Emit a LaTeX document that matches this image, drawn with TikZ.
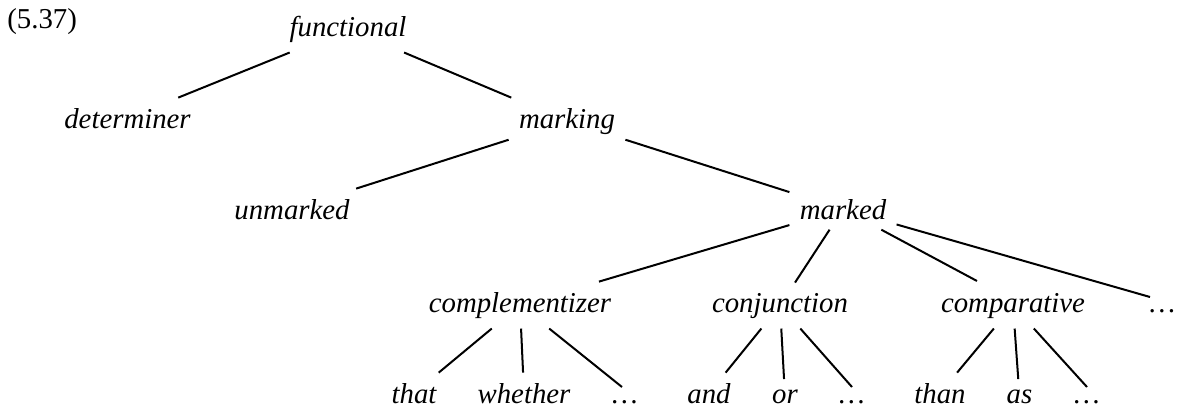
\documentclass[tikz,border=0pt]{standalone}
\usepackage{fontspec}
\setmainfont{Liberation Serif}
\begin{document}
\begin{tikzpicture}[x=0.5pt,y=-0.5pt,
  label text/.style={font=\fontsize{14.4}{17}\selectfont},
  cat/.style={font=\fontsize{14.4}{17}\selectfont\itshape, anchor=base,
    inner xsep=5pt, inner ysep=5pt},
  branch/.style={line width=1pt}]
\useasboundingbox (0,0) rectangle (1184,408);

% example number
\node[label text, anchor=base west, inner sep=0pt] (num) at (7,28) {(5.37)};

% level 0 and 1
\node[cat] (fun) at (348,36) {functional};
\node[cat] (det) at (127.5,128) {determiner};
\node[cat] (mkg) at (567,128) {marking};

% level 2
\node[cat] (unm) at (292,219) {unmarked};
\node[cat] (mkd) at (843,219) {marked};

% level 3
\node[cat] (comp) at (520,312) {complementizer};
\node[cat] (conj) at (780,312) {conjunction};
\node[cat] (cmpr) at (1013,312) {comparative};
\node[cat] (more) at (1162.5,312) {\ldots};

% level 4
\node[cat] (that) at (414,403) {that};
\node[cat] (whe)  at (524,403) {whether};
\node[cat] (cdots) at (625,403) {\ldots};
\node[cat] (and)  at (709,403) {and};
\node[cat] (or)   at (785,403) {or};
\node[cat] (jdots) at (852,403) {\ldots};
\node[cat] (than) at (940,403) {than};
\node[cat] (as)   at (1019.5,403) {as};
\node[cat] (rdots) at (1087,403) {\ldots};

% branches
\draw[branch] (fun) -- (det);
\draw[branch] (fun) -- (mkg);
\draw[branch] (mkg) -- (unm);
\draw[branch] (mkg) -- (mkd);
\draw[branch] (mkd) -- (comp);
\draw[branch] (mkd) -- (conj);
\draw[branch] (mkd) -- ([shift={(-18pt,15.5pt)}]cmpr.base);
\draw[branch] (mkd) -- ([shift={(-6.25pt,7.5pt)}]more.base);
\draw[branch] (comp) -- (that);
\draw[branch] (comp) -- (whe);
\draw[branch] (comp) -- ([shift={(-1.5pt,8pt)}]cdots.base);
\draw[branch] (conj) -- (and);
\draw[branch] (conj) -- (or);
\draw[branch] (conj) -- ([yshift=8pt]jdots.base);
\draw[branch] (cmpr) -- (than);
\draw[branch] (cmpr) -- (as);
\draw[branch] (cmpr) -- ([yshift=8pt]rdots.base);
\end{tikzpicture}
\end{document}
